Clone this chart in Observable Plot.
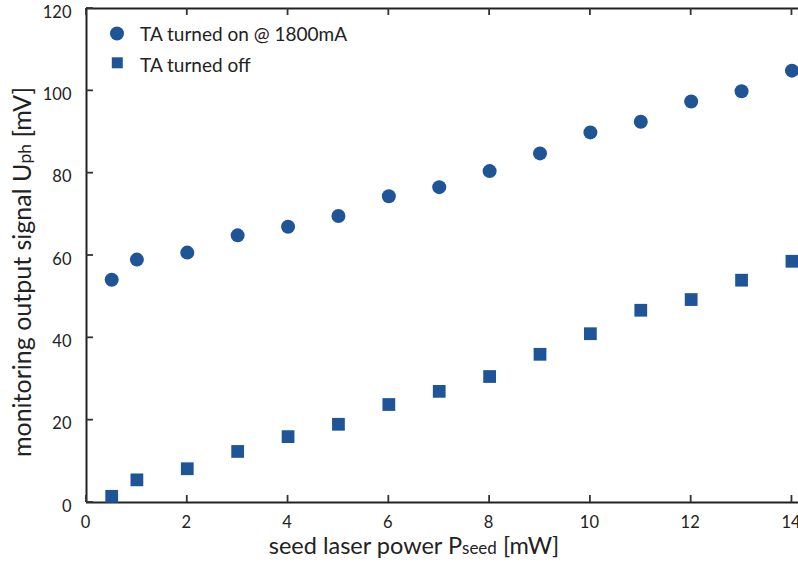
<!DOCTYPE html>
<html>
<head>
<meta charset="utf-8">
<script src="https://cdn.jsdelivr.net/npm/d3@7"></script>
<script src="https://cdn.jsdelivr.net/npm/@observablehq/plot@0.6"></script>
<style>
  html, body { margin: 0; padding: 0; background: #fff; }
  #chart svg { display: block; }
</style>
</head>
<body>
<div id="chart"></div>
<script>
const seedPower = [0.5, 1, 2, 3, 4, 5, 6, 7, 8, 9, 10, 11, 12, 13, 14];
const signalOn  = [54.1, 59.0, 60.7, 64.9, 67.0, 69.6, 74.4, 76.6, 80.5, 84.8, 89.9, 92.5, 97.4, 99.9, 104.9];
const signalOff = [1.5, 5.5, 8.2, 12.4, 16.0, 19.0, 23.8, 27.0, 30.6, 36.0, 41.0, 46.7, 49.3, 54.0, 58.6];
const xTicks = [0, 2, 4, 6, 8, 10, 12, 14];
const yTicks = [0, 20, 40, 60, 80, 100, 120];
const xDomain = [0, 14.13];
const yDomain = [0, 120];
const seriesNames = ["TA turned on @ 1800mA", "TA turned off"];

const color = "#1f5597";
const font = "Lato, 'Open Sans', 'DejaVu Sans', sans-serif";

const W = 798, H = 563, mL = 86, mR = 0, mT = 8, mB = 61;
const tickLen = 7;

const onData = seedPower.map((p, i) => ({p, u: signalOn[i]}));
const offData = seedPower.map((p, i) => ({p, u: signalOff[i]}));

const plot = Plot.plot({
  width: W,
  height: H,
  marginLeft: mL,
  marginRight: mR,
  marginTop: mT,
  marginBottom: mB,
  style: {fontFamily: font, fontSize: "17px", color: "#222", background: "#fff"},
  x: {domain: xDomain, label: null},
  y: {domain: yDomain, label: null},
  marks: [
    // tick labels
    Plot.axisX(xTicks, {anchor: "bottom", tickSize: 0, tickPadding: 14, dx: -1, fontSize: 16.5, fill: "#222"}),
    Plot.axisY(yTicks, {anchor: "left", tickSize: 0, tickPadding: 15, dy: 4, fontSize: 16.5, fill: "#222"}),
    // frame lines
    Plot.ruleX([xDomain[0]], {stroke: "#222", strokeWidth: 2}),
    Plot.ruleY(yDomain, {stroke: "#222", strokeWidth: 2}),
    // data
    Plot.dot(onData, {x: "p", y: "u", r: 7, fill: color, stroke: "none", symbol: "circle"}),
    Plot.dot(offData, {x: "p", y: "u", r: 7.2, fill: color, stroke: "none", symbol: "square"})
  ]
});

document.getElementById("chart").appendChild(plot);

const svg = d3.select(plot);
const xs = plot.scale("x"), ys = plot.scale("y");
const [yBottom, yTop] = [ys.apply(yDomain[0]), ys.apply(yDomain[1])];
const xLeft = xs.apply(xDomain[0]);

// inward ticks drawn from the plot's own scales
const tg = svg.append("g").attr("stroke", "#333").attr("stroke-width", 1.8);
xTicks.forEach(t => {
  const px = xs.apply(t);
  tg.append("line").attr("x1", px).attr("x2", px).attr("y1", yBottom).attr("y2", yBottom - tickLen);
  tg.append("line").attr("x1", px).attr("x2", px).attr("y1", yTop).attr("y2", yTop + tickLen);
});
yTicks.forEach(t => {
  const py = ys.apply(t);
  tg.append("line").attr("x1", xLeft).attr("x2", xLeft + tickLen).attr("y1", py).attr("y2", py);
});

// Axis labels with subscripts
const xl = svg.append("text")
  .attr("x", 414).attr("y", 554)
  .attr("text-anchor", "middle")
  .attr("font-family", font).attr("font-size", 23.5).attr("fill", "#222");
xl.append("tspan").text("seed laser power P");
xl.append("tspan").attr("font-size", 17).text("seed");
xl.append("tspan").text(" [mW]");

const yl = svg.append("text")
  .attr("transform", "translate(31,272) rotate(-90)")
  .attr("text-anchor", "middle")
  .attr("font-family", font).attr("font-size", 25).attr("fill", "#222");
yl.append("tspan").text("monitoring output signal U");
yl.append("tspan").attr("font-size", 17.5).text("ph");
yl.append("tspan").text(" [mV]");

// Legend
const leg = svg.append("g").attr("font-family", font).attr("font-size", 19).attr("fill", "#222").attr("text-anchor", "start");
leg.append("circle").attr("cx", 117).attr("cy", 33.5).attr("r", 7).attr("fill", color);
leg.append("text").attr("x", 140).attr("y", 41).text(seriesNames[0]);
leg.append("rect").attr("x", 111.8).attr("y", 57.3).attr("width", 11).attr("height", 11).attr("fill", color);
leg.append("text").attr("x", 140).attr("y", 71.5).text(seriesNames[1]);
</script>
</body>
</html>
